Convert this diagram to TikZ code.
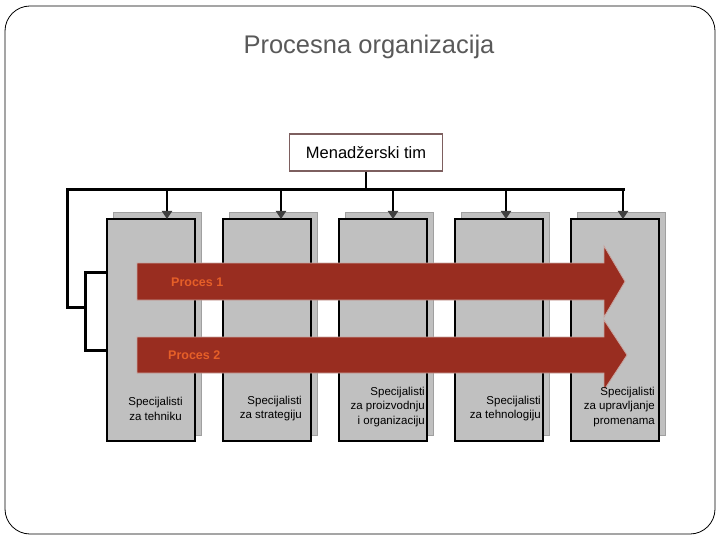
\documentclass[tikz,border=0pt]{standalone}
\usepackage{fontspec}
\setmainfont{Liberation Sans}
\usetikzlibrary{arrows.meta}
\definecolor{titlegray}{RGB}{89,89,89}
\definecolor{mtedge}{RGB}{125,95,95}
\definecolor{boxgray}{RGB}{192,192,192}
\definecolor{shadowedge}{RGB}{160,160,160}
\definecolor{arrowred}{RGB}{153,45,32}
\definecolor{arrowedge}{RGB}{200,165,160}
\definecolor{procorange}{RGB}{230,95,40}
\definecolor{tipgray}{RGB}{64,64,64}
\tikzset{
  frontbox/.style={draw=black, line width=2pt, fill=boxgray, minimum width=88pt, minimum height=222pt, inner sep=0pt},
  shadowbox/.style={draw=shadowedge, line width=1pt, fill=boxgray, minimum width=88pt, minimum height=222pt, inner sep=0pt},
  bus/.style={line width=3pt, black},
  drop/.style={line width=2pt, black, -{Triangle[width=10pt,length=8pt,color=tipgray]}},
  proclabel/.style={font=\fontsize{12.5}{14}\selectfont\bfseries, text=procorange, anchor=west, inner sep=0pt},
  spectext/.style={font=\fontsize{11.5}{14.5}\selectfont, align=right, inner sep=0pt, anchor=east},
  procarrow/.style={fill=arrowred, draw=arrowedge, line width=0.8pt}
}
\begin{document}
\begin{tikzpicture}[x=1pt,y=-1pt]
\useasboundingbox (0,0) rectangle (720,540);
\draw[rounded corners=25pt, line width=0.8pt] (5,6) rectangle (715,534);
\node[font=\fontsize{25.5}{29}\selectfont, text=titlegray] (title) at (369,47) {Procesna organizacija};
\node[draw=mtedge, line width=1.5pt, minimum width=153pt, minimum height=37pt, font=\fontsize{16.5}{19}\selectfont, inner sep=0pt] (mt) at (366,152.5) {Menadžerski tim};

% shadow and front boxes
\foreach \i in {1,...,5}{
  \pgfmathsetmacro{\xo}{107+116*(\i-1)}
  \node[shadowbox] (s\i) at (\xo+50,324) {};
}
\foreach \i in {1,...,5}{
  \pgfmathsetmacro{\xo}{107+116*(\i-1)}
  \node[frontbox] (b\i) at (\xo+44,330) {};
}

% bus
\coordinate (busL) at (67,190);
\coordinate (busR) at (623,190);
\coordinate (brL) at (67,307);
\coordinate (brM) at (85,307);
\draw[line width=2pt] (mt.south) -- (mt.south |- busL);
\draw[bus] (brM) -- (brL) -- (busL) -- (busR) -- ++(0,1.5);
\draw[bus] (b1.west |- 0,272) -- (85,272) -- (85,350) -- (b1.west |- 0,350);

\foreach \x/\i in {167/1,281/2,393/3,506/4,623/5}{
  \coordinate (d\i) at (\x,190);
  \draw[drop] (d\i) -- (\x,219);
}

% process arrows
\path[procarrow] (137,263) -- (604,263) -- (604,246) -- (625,281.5) -- (604,317) -- (604,300) -- (137,300) -- cycle;
\path[procarrow] (137,337) -- (604,337) -- (604,320) -- (627,355) -- (604,390) -- (604,373) -- (137,373) -- cycle;
\node[proclabel] (p1) at (171,282) {Proces 1};
\node[proclabel] (p2) at (168,355) {Proces 2};

% texts
\node[spectext, align=center, anchor=center] (t1) at (155.5,409) {Specijalisti\\za tehniku};
\node[spectext] (t2) at (302,408.5) {Specijalisti\\za strategiju};
\node[spectext] (t3) at (425,407) {Specijalisti\\za proizvodnju\\i organizaciju};
\node[spectext] (t4) at (541,408.5) {Specijalisti\\za tehnologiju};
\node[spectext] (t5) at (655,407) {Specijalisti\\za upravljanje\\promenama};
\end{tikzpicture}
\end{document}
